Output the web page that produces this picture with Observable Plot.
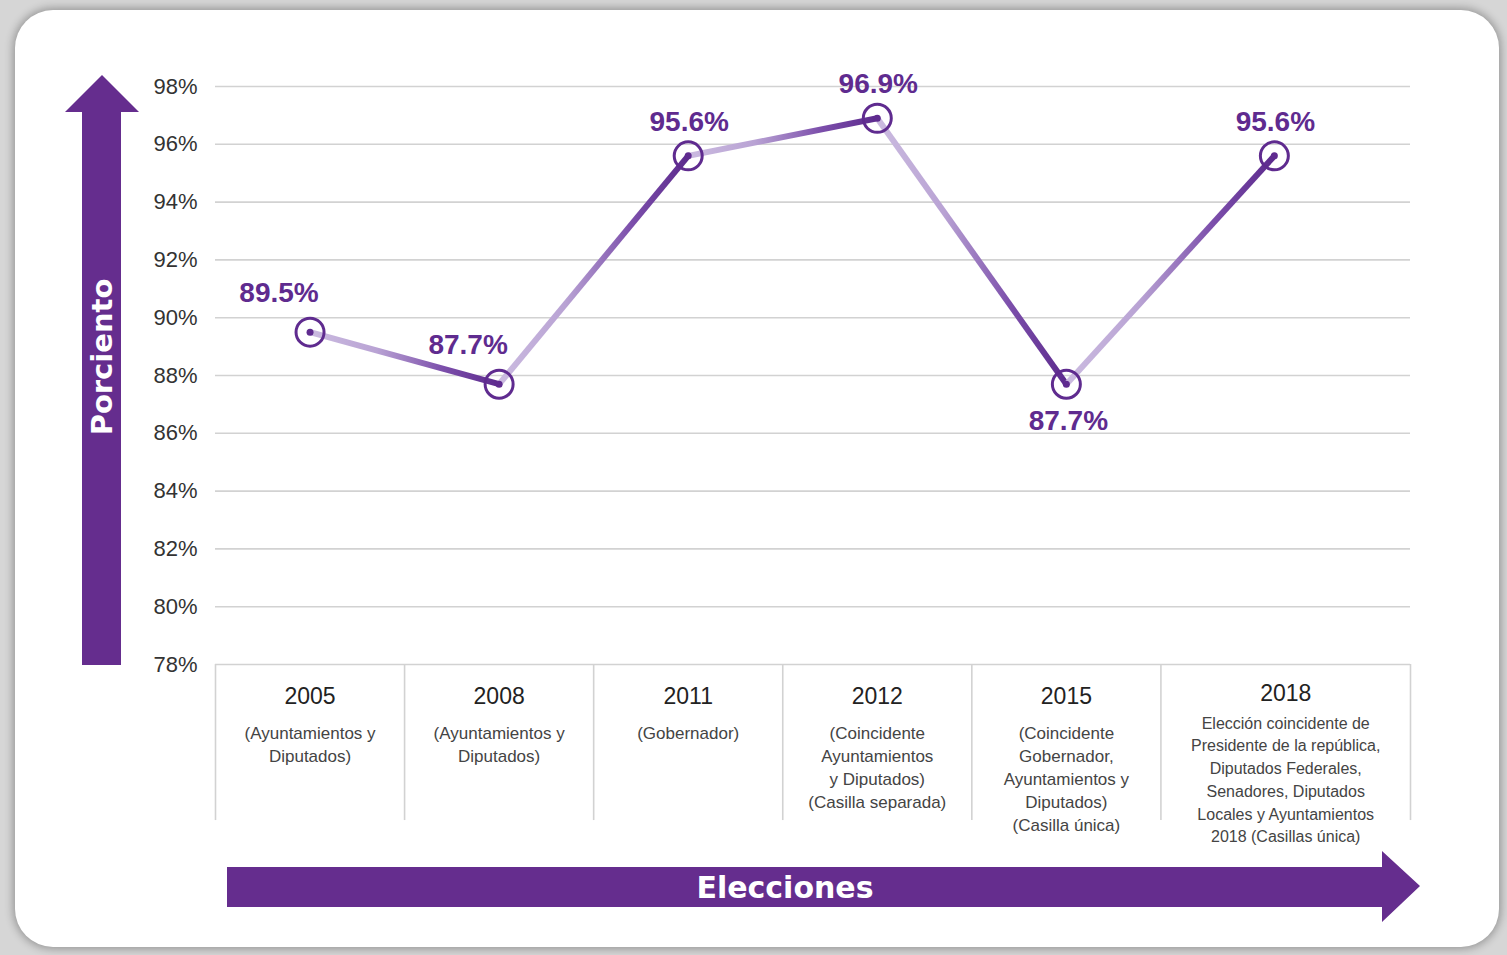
<!DOCTYPE html>
<html>
<head>
<meta charset="utf-8">
<script src="https://cdn.jsdelivr.net/npm/d3@7"></script>
<script src="https://cdn.jsdelivr.net/npm/@observablehq/plot@0.6"></script>
<style>
  html, body { margin: 0; padding: 0; width: 1507px; height: 955px; overflow: hidden; background: #d6d6d6; }
  #card { position: absolute; left: 15px; top: 10px; width: 1484px; height: 937px; background: #fff;
          border-radius: 38px; box-shadow: 0 0 9px 2px rgba(0,0,0,0.30); }
  #deco { position: absolute; left: 0; top: 0; }
  #chart { position: absolute; left: 0; top: 0; }
</style>
</head>
<body>
<div id="card"></div>
<svg id="deco" width="1507" height="955"></svg>
<div id="chart"></div>
<script>
// ---------------- data ----------------
const years = ["2005", "2008", "2011", "2012", "2015", "2018"];
const descriptions = [
  "(Ayuntamientos y\nDiputados)",
  "(Ayuntamientos y\nDiputados)",
  "(Gobernador)",
  "(Coincidente\nAyuntamientos\ny Diputados)\n(Casilla separada)",
  "(Coincidente\nGobernador,\nAyuntamientos y\nDiputados)\n(Casilla única)",
  "Elección coincidente de\nPresidente de la república,\nDiputados Federales,\nSenadores, Diputados\nLocales y Ayuntamientos\n2018 (Casillas única)"
];
const participation = [89.5, 87.7, 95.6, 96.9, 87.7, 95.6];
const labelSide = ["upper-left", "upper-left", "upper", "upper", "lower", "upper"];
const yTicks = [78, 80, 82, 84, 86, 88, 90, 92, 94, 96, 98];
const yAxisTitle = "Porciento";
const xAxisTitle = "Elecciones";

// ---------------- layout helpers ----------------
const purple = "#5f2b8f";
const arrowPurple = "#652d8e";
const colWidths = years.map((_, i) => (i === years.length - 1 ? 1.32 : 1));
const edges = [0];
colWidths.forEach(w => edges.push(edges[edges.length - 1] + w));
const centers = colWidths.map((w, i) => edges[i] + w / 2);
const pointX = colWidths.map((w, i) => edges[i] + Math.min(w, 1.2) / 2);

const rows = years.map((yr, i) => ({
  year: yr, desc: descriptions[i], value: participation[i], side: labelSide[i],
  x: centers[i], px: pointX[i], label: participation[i].toFixed(1) + "%",
  long: descriptions[i].split("\n").length > 5
}));
const segments = rows.slice(1).map((r, i) => ({x1: rows[i].px, y1: rows[i].value, x2: r.px, y2: r.value}));

// ---------------- decorations (gradient + arrows) ----------------
const deco = d3.select("#deco");
const grad = deco.append("defs").append("linearGradient")
  .attr("id", "segGrad").attr("x1", 0).attr("y1", 0).attr("x2", 1).attr("y2", 0);
grad.append("stop").attr("offset", "0%").attr("stop-color", "#cbbbe0");
grad.append("stop").attr("offset", "35%").attr("stop-color", "#b9a3d4");
grad.append("stop").attr("offset", "70%").attr("stop-color", "#7c4fab");
grad.append("stop").attr("offset", "100%").attr("stop-color", "#5c2a8d");

// vertical arrow
deco.append("polygon")
  .attr("points", "82,665 121,665 121,112 139,112 102,75 65,112 82,112")
  .attr("fill", arrowPurple);
deco.append("text")
  .attr("transform", "translate(101.5,357) rotate(-90)")
  .attr("text-anchor", "middle").attr("dominant-baseline", "central")
  .attr("fill", "#fff").attr("font-family", "DejaVu Sans, sans-serif")
  .attr("font-weight", "bold").attr("font-size", 29)
  .text(yAxisTitle);
// horizontal arrow
deco.append("polygon")
  .attr("points", "227,867 1382,867 1382,851 1420,886 1382,922 1382,907 227,907")
  .attr("fill", arrowPurple);
deco.append("text")
  .attr("x", 785).attr("y", 887)
  .attr("text-anchor", "middle").attr("dominant-baseline", "central")
  .attr("fill", "#fff").attr("font-family", "DejaVu Sans, sans-serif")
  .attr("font-weight", "bold").attr("font-size", 30)
  .text(xAxisTitle);

// ---------------- chart ----------------
const sans = "'Liberation Sans', Arial, sans-serif";

const chart = Plot.plot({
  width: 1507,
  height: 955,
  marginLeft: 215,
  marginRight: 97,
  marginTop: 86,
  marginBottom: 291,
  style: {background: "transparent", fontFamily: sans, fontSize: "22px", color: "#333", overflow: "visible"},
  x: {domain: [0, edges[edges.length - 1]], axis: null},
  y: {domain: [78, 98], axis: null},
  marks: [
    Plot.ruleY(yTicks, {stroke: "#d2d2d2", strokeWidth: 1.6}),
    Plot.ruleX(edges, {stroke: "#d2d2d2", strokeWidth: 1.6, y1: 78, y2: 72.6}),
    Plot.axisY(yTicks, {tickSize: 0, tickPadding: 18, tickFormat: d => d + "%", fontSize: 22, fill: "#333",
      letterSpacing: "-0.3px"}),
    Plot.link(segments, {x1: "x1", y1: "y1", x2: "x2", y2: "y2", stroke: "url(#segGrad)", strokeWidth: 6, strokeLinecap: "butt"}),
    Plot.dot(rows, {x: "px", y: "value", r: 14, stroke: purple, strokeWidth: 3, fill: "none"}),
    Plot.dot(rows, {x: "px", y: "value", r: 3.5, fill: purple, stroke: "none"}),
    Plot.text(rows.filter(d => d.side === "upper-left"), {x: "px", y: "value", text: "label", dx: -31, dy: -39,
      fill: purple, fontSize: 28, fontWeight: "bold", letterSpacing: "-0.5px"}),
    Plot.text(rows.filter(d => d.side === "upper"), {x: "px", y: "value", text: "label", dx: 1, dy: -34,
      fill: purple, fontSize: 28, fontWeight: "bold", letterSpacing: "-0.5px"}),
    Plot.text(rows.filter(d => d.side === "lower"), {x: "px", y: "value", text: "label", dx: 2, dy: 37,
      fill: purple, fontSize: 28, fontWeight: "bold", letterSpacing: "-0.5px"}),
    Plot.text(rows.filter(d => !d.long), {x: "x", y: () => 78, text: "year", dy: 32, fontSize: 23, fill: "#222",
      letterSpacing: "-0.6px"}),
    Plot.text(rows.filter(d => d.long), {x: "x", y: () => 78, text: "year", dy: 29, fontSize: 23, fill: "#222",
      letterSpacing: "-0.6px"}),
    Plot.text(rows.filter(d => !d.long), {x: "x", y: () => 78, text: "desc", dy: 58, lineAnchor: "top",
      lineHeight: 1.35, fontSize: 17, fill: "#444", letterSpacing: "-0.5px"}),
    Plot.text(rows.filter(d => d.long), {x: "x", y: () => 78, text: "desc", dy: 48, lineAnchor: "top",
      lineHeight: 1.42, fontSize: 16, fill: "#444", letterSpacing: "-0.6px"})
  ]
});
document.getElementById("chart").appendChild(chart);
</script>
</body>
</html>
